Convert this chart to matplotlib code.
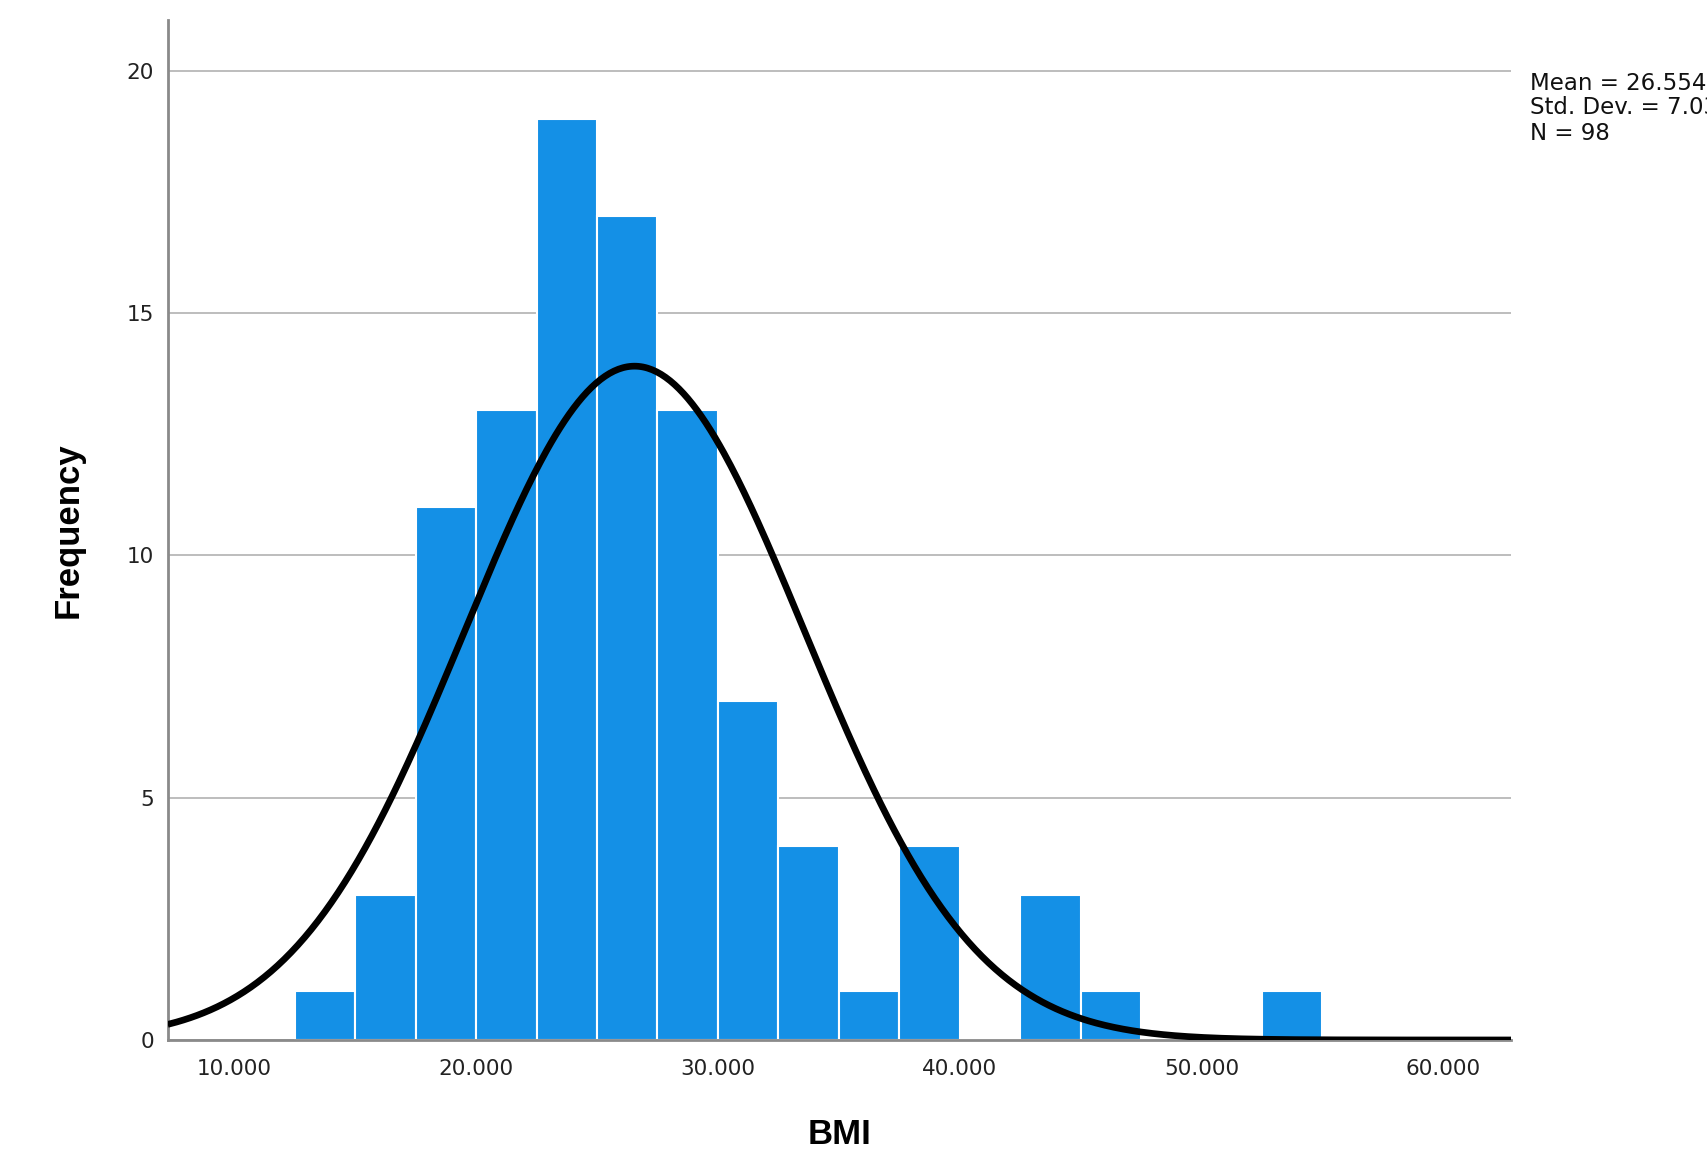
import numpy as np
import matplotlib
matplotlib.use("Agg")
import matplotlib.pyplot as plt

# BMI histogram, 2.5-wide bins, with fitted normal curve
bin_edges = [12.5, 15.0, 17.5, 20.0, 22.5, 25.0, 27.5, 30.0, 32.5,
             35.0, 37.5, 40.0, 42.5, 45.0, 47.5, 50.0, 52.5, 55.0]
counts = [1, 3, 11, 13, 19, 17, 13, 7, 4, 1, 4, 0, 3, 1, 0, 0, 1]
mean_bmi = 26.5544
sd_bmi = 7.0312
n_obs = 98

x_ticks = [10, 20, 30, 40, 50, 60]
x_ticklabels = ["10.000", "20.000", "30.000", "40.000", "50.000", "60.000"]
y_ticks = [0, 5, 10, 15, 20]

bar_color = "#1490e6"

fig = plt.figure(figsize=(17.08, 11.49), dpi=100)
ax = fig.add_axes([0.0982, 0.0949, 0.7865, 0.888])

bin_width = bin_edges[1] - bin_edges[0]
ax.bar(bin_edges[:-1], counts, width=bin_width, align="edge",
       color=bar_color, edgecolor="white", linewidth=1.5, zorder=2)

xmin, xmax = 7.25, 62.8
xs = np.linspace(xmin, xmax, 600)
pdf = np.exp(-0.5 * ((xs - mean_bmi) / sd_bmi) ** 2) / (sd_bmi * np.sqrt(2 * np.pi))
ax.plot(xs, n_obs * bin_width * pdf, color="black", linewidth=4.8, zorder=3,
        solid_capstyle="butt")

ax.set_xlim(xmin, xmax)
ax.set_ylim(0, 21.05)
ax.set_xticks(x_ticks)
ax.set_xticklabels(x_ticklabels)
ax.set_yticks(y_ticks)
ax.tick_params(axis="both", length=0, labelsize=15.5, colors="#222222")
ax.tick_params(axis="y", pad=10)
ax.tick_params(axis="x", pad=14)

ax.grid(axis="y", color="#bdbdbd", linewidth=1.4, zorder=0)
ax.set_axisbelow(True)
for side in ("top", "right"):
    ax.spines[side].set_visible(False)
for side in ("left", "bottom"):
    ax.spines[side].set_color("#8a8a8a")
    ax.spines[side].set_linewidth(2)

ax.set_xlabel("BMI", fontsize=25, fontweight="bold", family="Liberation Sans",
              labelpad=28)
ax.set_ylabel("Frequency", fontsize=25, fontweight="bold", family="Liberation Sans",
              labelpad=30)

# summary statistics, runs past the right edge of the figure
stats = [f"Mean = {mean_bmi:.4f}", f"Std. Dev. = {sd_bmi:.4f}", f"N = {n_obs}"]
for i, line in enumerate(stats):
    fig.text(1530 / 1708, 1 - (83 + 25 * i) / 1149, line, fontsize=16.5,
             va="center", ha="left", color="#111111")

fig.savefig("out.png", dpi=100)
